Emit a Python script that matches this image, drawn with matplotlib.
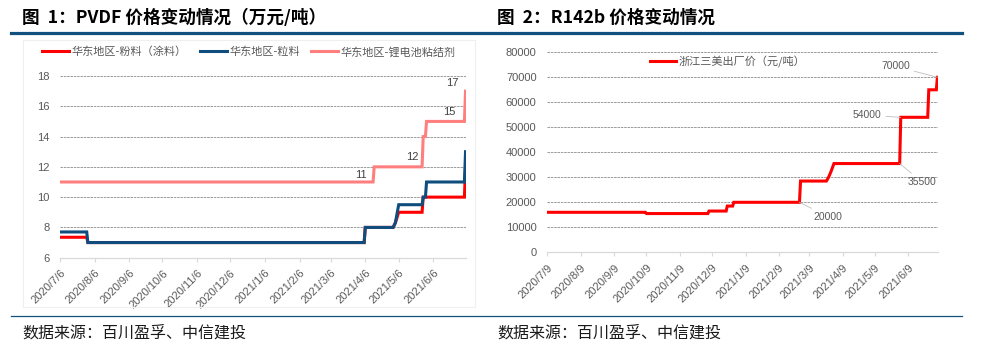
import matplotlib
matplotlib.use('Agg')
import matplotlib.pyplot as plt
import matplotlib.dates as mdates
from matplotlib.lines import Line2D
from matplotlib.patches import Rectangle
from datetime import datetime, timedelta

CJK = ['Noto Sans CJK SC', 'DejaVu Sans']
NUM = ['Liberation Sans', 'Noto Sans CJK SC', 'DejaVu Sans']
plt.rcParams['font.family'] = CJK

# ---------------- data: chart 1 (PVDF, 万元/吨) ----------------
pvdf_powder_dates = ['2020-07-06', '2020-07-30', '2020-07-31', '2021-04-05', '2021-04-06',
                     '2021-05-01', '2021-05-03', '2021-05-06', '2021-05-27', '2021-05-28',
                     '2021-07-04', '2021-07-05']
pvdf_powder_vals = [7.35, 7.35, 7.0, 7.0, 8.0, 8.0, 8.3, 9.0, 9.0, 10.0, 10.0, 12.0]

pvdf_granule_dates = ['2020-07-06', '2020-07-30', '2020-07-31', '2021-04-05', '2021-04-06',
                      '2021-05-01', '2021-05-03', '2021-05-06', '2021-05-27', '2021-05-28',
                      '2021-05-30', '2021-05-31', '2021-07-04', '2021-07-05']
pvdf_granule_vals = [7.7, 7.7, 7.0, 7.0, 8.0, 8.0, 8.3, 9.5, 9.5, 10.0, 10.0, 11.0, 11.0, 13.0]

pvdf_battery_dates = ['2020-07-06', '2021-04-13', '2021-04-14', '2021-05-27', '2021-05-28',
                      '2021-05-30', '2021-05-31', '2021-07-04', '2021-07-05']
pvdf_battery_vals = [11.0, 11.0, 12.0, 12.0, 14.0, 14.0, 15.0, 15.0, 17.0]

pvdf_series_names = ['华东地区-粉料（涂料）', '华东地区-粒料', '华东地区-锂电池粘结剂']
pvdf_label_dates = ['2021-04-13', '2021-05-27', '2021-07-04', '2021-07-05']
pvdf_label_vals = [11, 12, 15, 17]

pvdf_yticks = [6, 8, 10, 12, 14, 16, 18]
pvdf_xtick_dates = ['2020-07-06', '2020-08-06', '2020-09-06', '2020-10-06', '2020-11-06',
                    '2020-12-06', '2021-01-06', '2021-02-06', '2021-03-06', '2021-04-06',
                    '2021-05-06', '2021-06-06']
pvdf_xtick_labels = ['2020/7/6', '2020/8/6', '2020/9/6', '2020/10/6', '2020/11/6', '2020/12/6',
                     '2021/1/6', '2021/2/6', '2021/3/6', '2021/4/6', '2021/5/6', '2021/6/6']

# ---------------- data: chart 2 (R142b, 元/吨) ----------------
r142b_dates = ['2020-07-09', '2020-10-08', '2020-10-09', '2020-12-05', '2020-12-06',
               '2020-12-22', '2020-12-23', '2020-12-28', '2020-12-29', '2021-02-28',
               '2021-03-01', '2021-03-25', '2021-03-27', '2021-03-29', '2021-04-01',
               '2021-06-01', '2021-06-02', '2021-06-27', '2021-06-28', '2021-07-05',
               '2021-07-06']
r142b_vals = [16000, 16000, 15500, 15500, 16500, 16500, 18500, 18500, 20000, 20000,
              28500, 28500, 30000, 32000, 35500, 35500, 54000, 54000, 65000, 65000, 70000]
r142b_name = '浙江三美出厂价（元/吨）'
r142b_label_dates = ['2021-07-06', '2021-06-02', '2021-06-01', '2021-02-28']
r142b_label_vals = [70000, 54000, 35500, 20000]

r142b_yticks = [0, 10000, 20000, 30000, 40000, 50000, 60000, 70000, 80000]
r142b_xtick_dates = ['2020-07-09', '2020-08-09', '2020-09-09', '2020-10-09', '2020-11-09',
                     '2020-12-09', '2021-01-09', '2021-02-09', '2021-03-09', '2021-04-09',
                     '2021-05-09', '2021-06-09']
r142b_xtick_labels = ['2020/7/9', '2020/8/9', '2020/9/9', '2020/10/9', '2020/11/9', '2020/12/9',
                      '2021/1/9', '2021/2/9', '2021/3/9', '2021/4/9', '2021/5/9', '2021/6/9']

titles = ['图  1：PVDF 价格变动情况（万元/吨）', '图  2：R142b 价格变动情况']
source_text = '数据来源：百川盈孚、中信建投'

# ---------------- styling ----------------
RED = '#FF0000'
BLUE = '#0E4D7D'
PINK = '#FF7F7F'
RULE = '#12507F'
GRAY_TXT = '#595959'
GRID = '#8C8C8C'
AXIS = '#D9D9D9'

W, H = 1000, 356
fig = plt.figure(figsize=(W / 100, H / 100), dpi=100)


def fx(px):
    return px / W


def fy(py):
    return 1 - py / H


def d(s):
    return datetime.strptime(s, '%Y-%m-%d')


# rules and titles
fig.add_artist(Line2D([fx(11), fx(962)], [fy(33.3), fy(33.3)], color=RULE, lw=2.3,
                      transform=fig.transFigure))
fig.add_artist(Line2D([fx(11), fx(962)], [fy(316), fy(316)], color=RULE, lw=0.9,
                      transform=fig.transFigure))
for x0, t in zip([22, 497], titles):
    fig.text(fx(x0), fy(17.5), t, fontsize=12.7, fontweight='bold', color='black',
             ha='left', va='center', family=['Noto Sans CJK SC', 'DejaVu Sans'])
for x0 in [22, 497]:
    fig.text(fx(x0), fy(333), source_text, fontsize=11.5, style='italic', color='#1A1A1A',
             ha='left', va='center')

# faint chart-area border for chart 1
fig.add_artist(Rectangle((fx(22.7), fy(306.7)), fx(475) - fx(22.7), fy(40) - fy(306.7),
                         transform=fig.transFigure, fill=False, ec='#EFEFEF', lw=0.8))


def style_axes(ax, yticks, xtick_dates, xtick_labels):
    for s in ['left', 'right', 'top']:
        ax.spines[s].set_visible(False)
    ax.spines['bottom'].set_color(AXIS)
    ax.spines['bottom'].set_linewidth(0.9)
    ax.set_yticks(yticks)
    ax.set_yticklabels([str(v) for v in yticks])
    ax.tick_params(axis='y', length=0, pad=7.7, labelsize=8, labelcolor=GRAY_TXT)
    for v in yticks[1:]:
        ax.axhline(v, color=GRID, lw=0.6, ls=(0, (3, 1)), zorder=1)
    ax.set_xticks([d(s) for s in xtick_dates])
    ax.set_xticklabels(xtick_labels)
    ax.tick_params(axis='x', length=3, width=0.8, color=AXIS, pad=4.3, labelsize=8,
                   labelcolor=GRAY_TXT)
    for lab in ax.get_xticklabels() + ax.get_yticklabels():
        lab.set_family(NUM)
    for lab in ax.get_xticklabels():
        lab.set_rotation(45)
        lab.set_ha('right')
        lab.set_va('top')
        lab.set_rotation_mode('anchor')
    ax.patch.set_alpha(0)


# ---------------- chart 1 ----------------
ax1 = fig.add_axes([fx(60), fy(257.7), fx(466) - fx(60), fy(76) - fy(257.7)])
ax1.plot([d(s) for s in pvdf_powder_dates], pvdf_powder_vals, color=RED, lw=2.2,
         solid_joinstyle='miter', zorder=3)
ax1.plot([d(s) for s in pvdf_granule_dates], pvdf_granule_vals, color=BLUE, lw=2.2,
         solid_joinstyle='miter', zorder=4)
ax1.plot([d(s) for s in pvdf_battery_dates], pvdf_battery_vals, color=PINK, lw=2.2,
         solid_joinstyle='miter', zorder=5)
ax1.set_ylim(6, 18)
ax1.set_xlim(d('2020-07-06'), d('2021-07-05') + timedelta(hours=10))
style_axes(ax1, pvdf_yticks, pvdf_xtick_dates, pvdf_xtick_labels)

label_offsets1 = [(-8.9, 5.3), (-7.2, 7.2), (-11.1, 7.1), (-9.2, 6.1)]
for ds, v, off in zip(pvdf_label_dates, pvdf_label_vals, label_offsets1):
    ax1.annotate(str(v), xy=(d(ds), v), xytext=off, textcoords='offset points',
                 ha='center', va='center', fontsize=8, color='#404040', family=NUM, zorder=6)

# legends chart 1 (one entry each, placed individually)
leg_pos1 = [42, 200, 311]
colors1 = [RED, BLUE, PINK]
for xp, c, name in zip(leg_pos1, colors1, pvdf_series_names):
    h = Line2D([], [], color=c, lw=2.2)
    fig.legend([h], [name], loc='center left', bbox_to_anchor=(fx(xp), fy(52)),
               frameon=False, fontsize=8, handlelength=2.45, handletextpad=0.25,
               borderpad=0, borderaxespad=0, labelcolor=GRAY_TXT)

# ---------------- chart 2 ----------------
ax2 = fig.add_axes([fx(547.3), fy(252.3), fx(938.3) - fx(547.3), fy(52.3) - fy(252.3)])
ax2.plot([d(s) for s in r142b_dates], r142b_vals, color=RED, lw=2.2,
         solid_joinstyle='miter', zorder=3)
ax2.set_ylim(0, 80000)
ax2.set_xlim(d('2020-07-09'), d('2021-07-06') + timedelta(hours=20))
style_axes(ax2, r142b_yticks, r142b_xtick_dates, r142b_xtick_labels)

label_offsets2 = [(-30, 7.9), (-24, 1.4), (15.9, -13.2), (20.6, -10.4)]
for ds, v, off in zip(r142b_label_dates, r142b_label_vals, label_offsets2):
    ax2.annotate(str(v), xy=(d(ds), v), xytext=off, textcoords='offset points',
                 ha='center', va='center', fontsize=7.5, color=GRAY_TXT, family=NUM,
                 zorder=6,
                 arrowprops=dict(arrowstyle='-', color='#BFBFBF', lw=0.6,
                                 shrinkA=1, shrinkB=0))

h2 = Line2D([], [], color=RED, lw=2.2)
fig.legend([h2], [r142b_name], loc='center left', bbox_to_anchor=(fx(650), fy(61.7)),
           frameon=False, fontsize=8, handlelength=2.3, handletextpad=0.3,
           borderpad=0, borderaxespad=0, labelcolor=GRAY_TXT)

fig.savefig('out.png', dpi=100)
